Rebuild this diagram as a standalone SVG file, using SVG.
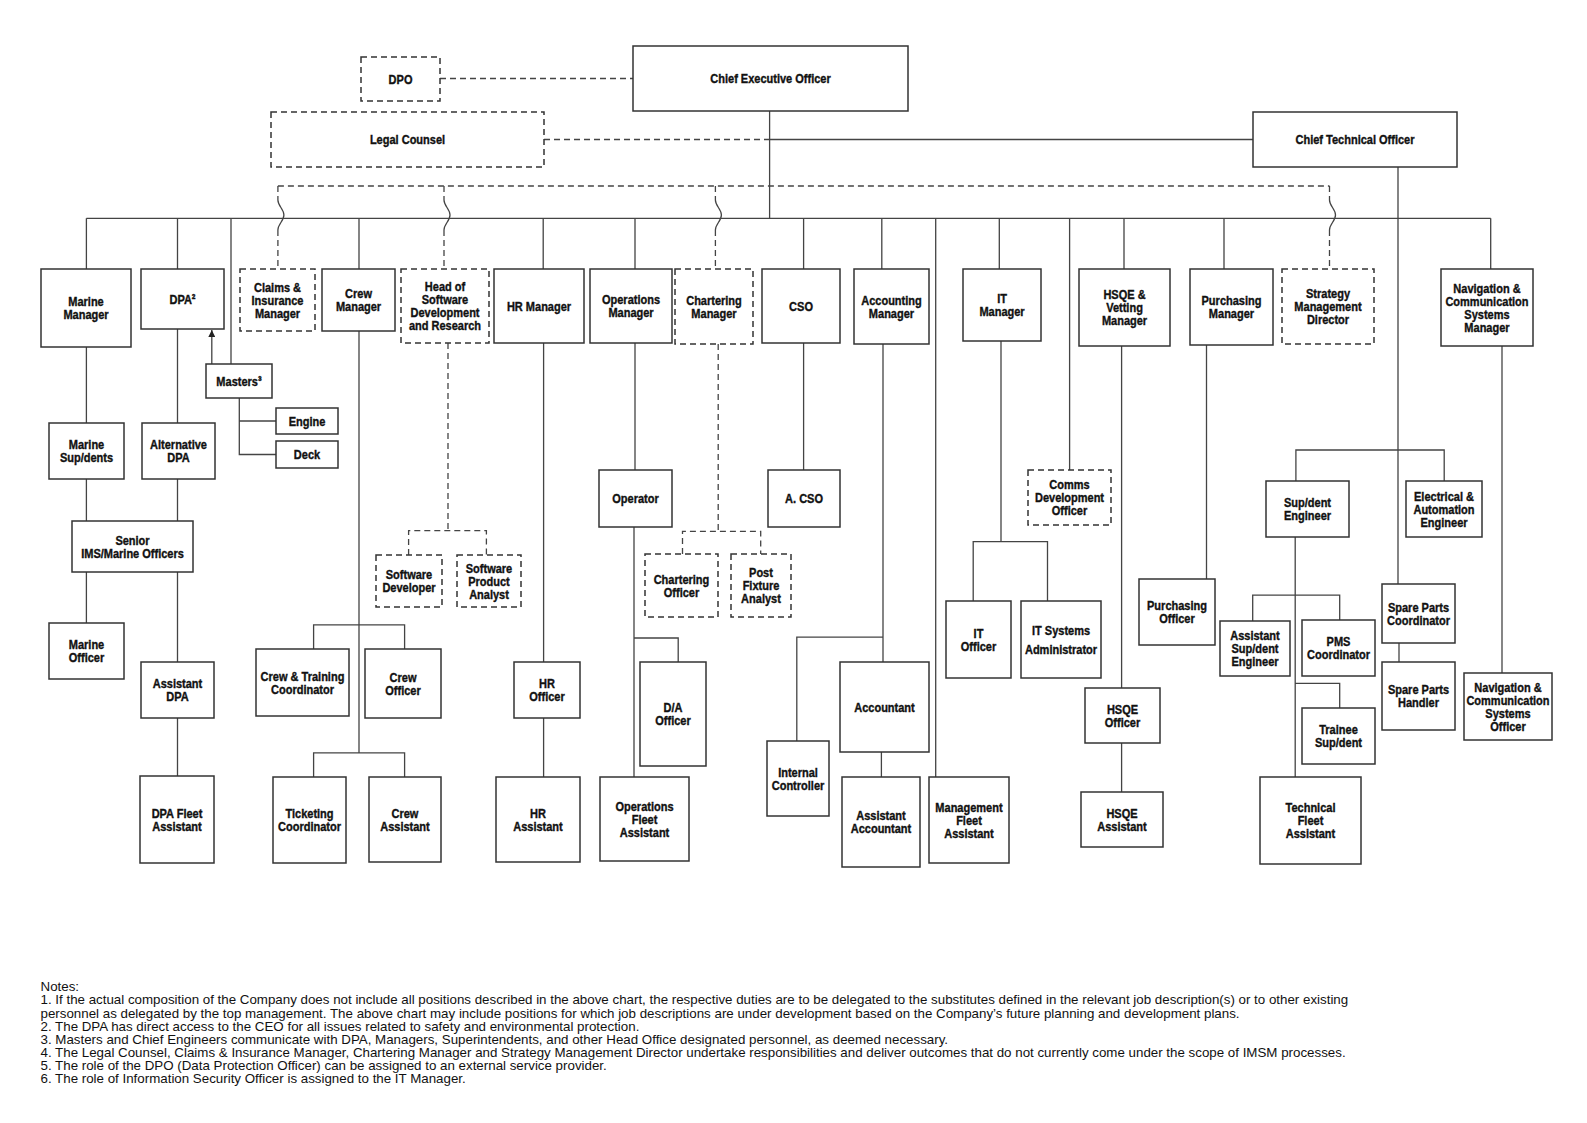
<svg xmlns="http://www.w3.org/2000/svg" width="1587" height="1123" viewBox="0 0 1587 1123">
<style>
.box{fill:#fff;stroke:#333;stroke-width:1.5}
.dash{stroke-dasharray:6 4}
.ln{fill:none;stroke:#444;stroke-width:1.3}
.dl{fill:none;stroke:#444;stroke-width:1.3;stroke-dasharray:6 4}
.t{font-family:"Liberation Sans Narrow","Liberation Sans",Arial,sans-serif;font-weight:bold;font-size:13.6px;text-anchor:middle;fill:#111;stroke:#111;stroke-width:0.4;transform-box:fill-box;transform-origin:center;transform:scaleX(0.81)}
.note{font-family:"Liberation Sans",Arial,sans-serif;font-size:13.33px;fill:#111}
</style>
<defs>
<marker id="arr" viewBox="0 0 10 10" refX="10" refY="5" markerWidth="9" markerHeight="7" markerUnits="userSpaceOnUse" orient="auto"><path d="M0,0 L10,5 L0,10 z" fill="#222"/></marker>
</defs>
<rect width="1587" height="1123" fill="#fff"/>
<g id="connectors">
<path class="dl" d="M440,78.5 H633"/>
<path class="dl" d="M544,139.5 H769.6"/>
<path class="ln" d="M769.6,139.5 H1253"/>
<path class="ln" d="M769.6,111 V218.3"/>
<path class="ln" d="M86.4,218.3 H1490.7"/>
<path class="dl" d="M277.9,186 H1329.5"/>
<path class="dl" d="M277.9,186 V200 M277.9,230 V269"/>
<path class="ln" d="M277.9,200 c0,6 6,9 6,15 s-6,9 -6,15"/>
<path class="dl" d="M444,186 V200 M444,230 V269"/>
<path class="ln" d="M444,200 c0,6 6,9 6,15 s-6,9 -6,15"/>
<path class="dl" d="M715.4,186 V200 M715.4,230 V269"/>
<path class="ln" d="M715.4,200 c0,6 6,9 6,15 s-6,9 -6,15"/>
<path class="dl" d="M1329.5,186 V200 M1329.5,230 V269"/>
<path class="ln" d="M1329.5,200 c0,6 6,9 6,15 s-6,9 -6,15"/>
<path class="ln" d="M86.4,218.3 V269 M177.5,218.3 V269 M359,218.3 V269 M543.2,218.3 V269 M635,218.3 V269 M803.6,218.3 V269 M881.8,218.3 V269 M999.3,218.3 V269 M1124,218.3 V269 M1224,218.3 V269 M1490.7,218.3 V269"/>
<path class="ln" d="M231,218.3 V364 M935.7,218.3 V777 M1069.6,218.3 V470 M1398,167 V584"/>
<path class="ln" d="M86.4,347 V423 M86.4,479 V521 M86.4,572 V623"/>
<path class="ln" d="M177.5,329 V423 M177.5,479 V521 M177.5,572 V662 M177.5,718 V776"/>
<path class="ln" d="M211.8,364 V330" marker-end="url(#arr)"/>
<path class="ln" d="M239.3,398 V454.5 H276 M239.3,421 H276"/>
<path class="ln" d="M359,331 V752.8 M313.6,649 V624.8 H404.6 V649 M313.6,777 V752.8 H404.6 V777"/>
<path class="dl" d="M448,343 V530.7 M408.6,555 V530.7 H486.4 V555"/>
<path class="ln" d="M543.6,343 V662 M543.6,718 V777"/>
<path class="ln" d="M635,343 V470 M634,527 V777 M634,638 H678.2 V662"/>
<path class="dl" d="M718.2,344 V531.4 M682.5,554 V531.4 H760.7 V554"/>
<path class="ln" d="M803.6,343 V470"/>
<path class="ln" d="M883,344 V662 M796.8,741 V637.2 H883 M881.4,752 V777"/>
<path class="ln" d="M1001,341 V541.7 M973.2,601 V541.7 H1047.5 V601"/>
<path class="ln" d="M1121.6,346 V688 M1121.6,743 V792"/>
<path class="ln" d="M1206.5,345 V579"/>
<path class="ln" d="M1295.9,481 V450 H1444.2 V481"/>
<path class="ln" d="M1295.2,537 V777 M1252.7,621 V595.2 H1339.7 V620 M1295.2,683.4 H1339.7 V708"/>
<path class="ln" d="M1399,643 V662"/>
<path class="ln" d="M1502,346 V673"/>
</g>
<g id="dpo"><rect class="box dash" x="361" y="57" width="79" height="44"/><text class="t" x="400.5" y="83.6">DPO</text></g>
<g id="ceo"><rect class="box" x="633" y="46" width="275" height="65"/><text class="t" x="770.5" y="83.1">Chief Executive Officer</text></g>
<g id="legal-counsel"><rect class="box dash" x="271" y="112" width="273" height="55"/><text class="t" x="407.5" y="144.1">Legal Counsel</text></g>
<g id="cto"><rect class="box" x="1253" y="112" width="204" height="55"/><text class="t" x="1355" y="144.1">Chief Technical Officer</text></g>
<g id="marine-manager"><rect class="box" x="41" y="269" width="90" height="78"/><text class="t" x="86" y="306.1">Marine<tspan x="86" dy="13">Manager</tspan></text></g>
<g id="dpa"><rect class="box" x="141" y="269" width="83" height="60"/><text class="t" x="182.5" y="303.6">DPA²</text></g>
<g id="claims"><rect class="box dash" x="240" y="269" width="75" height="62"/><text class="t" x="277.5" y="291.6">Claims &amp;<tspan x="277.5" dy="13">Insurance</tspan><tspan x="277.5" dy="13">Manager</tspan></text></g>
<g id="crew-manager"><rect class="box" x="322" y="269" width="73" height="62"/><text class="t" x="358.5" y="298.1">Crew<tspan x="358.5" dy="13">Manager</tspan></text></g>
<g id="head-software"><rect class="box dash" x="401" y="269" width="88" height="74"/><text class="t" x="445" y="291.1">Head of<tspan x="445" dy="13">Software</tspan><tspan x="445" dy="13">Development</tspan><tspan x="445" dy="13">and Research</tspan></text></g>
<g id="hr-manager"><rect class="box" x="494" y="269" width="90" height="74"/><text class="t" x="539" y="310.6">HR Manager</text></g>
<g id="ops-manager"><rect class="box" x="590" y="269" width="82" height="74"/><text class="t" x="631" y="304.1">Operations<tspan x="631" dy="13">Manager</tspan></text></g>
<g id="chartering-manager"><rect class="box dash" x="675" y="269" width="78" height="75"/><text class="t" x="714" y="304.6">Chartering<tspan x="714" dy="13">Manager</tspan></text></g>
<g id="cso"><rect class="box" x="762" y="269" width="78" height="74"/><text class="t" x="801" y="310.6">CSO</text></g>
<g id="accounting-manager"><rect class="box" x="854" y="269" width="75" height="75"/><text class="t" x="891.5" y="304.6">Accounting<tspan x="891.5" dy="13">Manager</tspan></text></g>
<g id="it-manager"><rect class="box" x="963" y="269" width="78" height="72"/><text class="t" x="1002" y="303.1">IT<tspan x="1002" dy="13">Manager</tspan></text></g>
<g id="hsqe-manager"><rect class="box" x="1079" y="269" width="91" height="77"/><text class="t" x="1124.5" y="299.1">HSQE &amp;<tspan x="1124.5" dy="13">Vetting</tspan><tspan x="1124.5" dy="13">Manager</tspan></text></g>
<g id="purchasing-manager"><rect class="box" x="1190" y="269" width="83" height="76"/><text class="t" x="1231.5" y="305.1">Purchasing<tspan x="1231.5" dy="13">Manager</tspan></text></g>
<g id="strategy-director"><rect class="box dash" x="1282" y="269" width="92" height="75"/><text class="t" x="1328" y="298.1">Strategy<tspan x="1328" dy="13">Management</tspan><tspan x="1328" dy="13">Director</tspan></text></g>
<g id="nav-manager"><rect class="box" x="1441" y="269" width="92" height="77"/><text class="t" x="1487" y="292.6">Navigation &amp;<tspan x="1487" dy="13">Communication</tspan><tspan x="1487" dy="13">Systems</tspan><tspan x="1487" dy="13">Manager</tspan></text></g>
<g id="masters"><rect class="box" x="206" y="364" width="66" height="34"/><text class="t" x="239" y="385.6">Masters³</text></g>
<g id="engine"><rect class="box" x="276" y="408" width="62" height="26"/><text class="t" x="307" y="425.6">Engine</text></g>
<g id="deck"><rect class="box" x="276" y="441" width="62" height="27"/><text class="t" x="307" y="459.1">Deck</text></g>
<g id="marine-supdents"><rect class="box" x="49" y="423" width="75" height="56"/><text class="t" x="86.5" y="449.1">Marine<tspan x="86.5" dy="13">Sup/dents</tspan></text></g>
<g id="alternative-dpa"><rect class="box" x="142" y="423" width="73" height="56"/><text class="t" x="178.5" y="449.1">Alternative<tspan x="178.5" dy="13">DPA</tspan></text></g>
<g id="senior-ims"><rect class="box" x="72" y="521" width="121" height="51"/><text class="t" x="132.5" y="544.6">Senior<tspan x="132.5" dy="13">IMS/Marine Officers</tspan></text></g>
<g id="marine-officer"><rect class="box" x="49" y="623" width="75" height="56"/><text class="t" x="86.5" y="649.1">Marine<tspan x="86.5" dy="13">Officer</tspan></text></g>
<g id="assistant-dpa"><rect class="box" x="141" y="662" width="73" height="56"/><text class="t" x="177.5" y="688.1">Assistant<tspan x="177.5" dy="13">DPA</tspan></text></g>
<g id="dpa-fleet-assistant"><rect class="box" x="140" y="776" width="74" height="87"/><text class="t" x="177" y="817.6">DPA Fleet<tspan x="177" dy="13">Assistant</tspan></text></g>
<g id="software-developer"><rect class="box dash" x="376" y="555" width="66" height="52"/><text class="t" x="409" y="579.1">Software<tspan x="409" dy="13">Developer</tspan></text></g>
<g id="software-analyst"><rect class="box dash" x="457" y="555" width="64" height="52"/><text class="t" x="489" y="572.6">Software<tspan x="489" dy="13">Product</tspan><tspan x="489" dy="13">Analyst</tspan></text></g>
<g id="crew-training"><rect class="box" x="256" y="649" width="93" height="67"/><text class="t" x="302.5" y="680.6">Crew &amp; Training<tspan x="302.5" dy="13">Coordinator</tspan></text></g>
<g id="crew-officer"><rect class="box" x="365" y="649" width="76" height="69"/><text class="t" x="403" y="681.6">Crew<tspan x="403" dy="13">Officer</tspan></text></g>
<g id="ticketing"><rect class="box" x="273" y="777" width="73" height="86"/><text class="t" x="309.5" y="818.1">Ticketing<tspan x="309.5" dy="13">Coordinator</tspan></text></g>
<g id="crew-assistant"><rect class="box" x="369" y="777" width="72" height="85"/><text class="t" x="405" y="817.6">Crew<tspan x="405" dy="13">Assistant</tspan></text></g>
<g id="hr-officer"><rect class="box" x="514" y="662" width="66" height="56"/><text class="t" x="547" y="688.1">HR<tspan x="547" dy="13">Officer</tspan></text></g>
<g id="hr-assistant"><rect class="box" x="496" y="777" width="84" height="85"/><text class="t" x="538" y="817.6">HR<tspan x="538" dy="13">Assistant</tspan></text></g>
<g id="operator"><rect class="box" x="599" y="470" width="73" height="57"/><text class="t" x="635.5" y="503.1">Operator</text></g>
<g id="a-cso"><rect class="box" x="768" y="470" width="72" height="57"/><text class="t" x="804" y="503.1">A. CSO</text></g>
<g id="chartering-officer"><rect class="box dash" x="645" y="554" width="73" height="63"/><text class="t" x="681.5" y="583.6">Chartering<tspan x="681.5" dy="13">Officer</tspan></text></g>
<g id="post-fixture"><rect class="box dash" x="731" y="554" width="60" height="63"/><text class="t" x="761" y="577.1">Post<tspan x="761" dy="13">Fixture</tspan><tspan x="761" dy="13">Analyst</tspan></text></g>
<g id="da-officer"><rect class="box" x="640" y="662" width="66" height="104"/><text class="t" x="673" y="712.1">D/A<tspan x="673" dy="13">Officer</tspan></text></g>
<g id="ops-fleet"><rect class="box" x="600" y="777" width="89" height="84"/><text class="t" x="644.5" y="810.6">Operations<tspan x="644.5" dy="13">Fleet</tspan><tspan x="644.5" dy="13">Assistant</tspan></text></g>
<g id="internal-controller"><rect class="box" x="767" y="741" width="62" height="75"/><text class="t" x="798" y="776.6">Internal<tspan x="798" dy="13">Controller</tspan></text></g>
<g id="accountant"><rect class="box" x="840" y="662" width="89" height="90"/><text class="t" x="884.5" y="711.6">Accountant</text></g>
<g id="assistant-accountant"><rect class="box" x="842" y="777" width="78" height="90"/><text class="t" x="881" y="820.1">Assistant<tspan x="881" dy="13">Accountant</tspan></text></g>
<g id="mgmt-fleet"><rect class="box" x="929" y="777" width="80" height="86"/><text class="t" x="969" y="811.6">Management<tspan x="969" dy="13">Fleet</tspan><tspan x="969" dy="13">Assistant</tspan></text></g>
<g id="it-officer"><rect class="box" x="946" y="601" width="65" height="77"/><text class="t" x="978.5" y="637.6">IT<tspan x="978.5" dy="13">Officer</tspan></text></g>
<g id="it-sysadmin"><rect class="box" x="1021" y="601" width="80" height="77"/><text class="t" x="1061" y="634.6">IT Systems<tspan x="1061" dy="19">Administrator</tspan></text></g>
<g id="comms-dev"><rect class="box dash" x="1028" y="470" width="83" height="55"/><text class="t" x="1069.5" y="489.1">Comms<tspan x="1069.5" dy="13">Development</tspan><tspan x="1069.5" dy="13">Officer</tspan></text></g>
<g id="hsqe-officer"><rect class="box" x="1085" y="688" width="75" height="55"/><text class="t" x="1122.5" y="713.6">HSQE<tspan x="1122.5" dy="13">Officer</tspan></text></g>
<g id="hsqe-assistant"><rect class="box" x="1081" y="792" width="82" height="55"/><text class="t" x="1122" y="817.6">HSQE<tspan x="1122" dy="13">Assistant</tspan></text></g>
<g id="purchasing-officer"><rect class="box" x="1139" y="579" width="76" height="66"/><text class="t" x="1177" y="610.1">Purchasing<tspan x="1177" dy="13">Officer</tspan></text></g>
<g id="supdent-engineer"><rect class="box" x="1266" y="481" width="83" height="56"/><text class="t" x="1307.5" y="507.1">Sup/dent<tspan x="1307.5" dy="13">Engineer</tspan></text></g>
<g id="electrical-engineer"><rect class="box" x="1406" y="481" width="76" height="56"/><text class="t" x="1444" y="500.6">Electrical &amp;<tspan x="1444" dy="13">Automation</tspan><tspan x="1444" dy="13">Engineer</tspan></text></g>
<g id="assistant-supdent"><rect class="box" x="1220" y="621" width="70" height="55"/><text class="t" x="1255" y="640.1">Assistant<tspan x="1255" dy="13">Sup/dent</tspan><tspan x="1255" dy="13">Engineer</tspan></text></g>
<g id="pms-coordinator"><rect class="box" x="1302" y="620" width="73" height="56"/><text class="t" x="1338.5" y="646.1">PMS<tspan x="1338.5" dy="13">Coordinator</tspan></text></g>
<g id="trainee-supdent"><rect class="box" x="1302" y="708" width="73" height="56"/><text class="t" x="1338.5" y="734.1">Trainee<tspan x="1338.5" dy="13">Sup/dent</tspan></text></g>
<g id="technical-fleet"><rect class="box" x="1260" y="777" width="101" height="87"/><text class="t" x="1310.5" y="812.1">Technical<tspan x="1310.5" dy="13">Fleet</tspan><tspan x="1310.5" dy="13">Assistant</tspan></text></g>
<g id="spare-coordinator"><rect class="box" x="1382" y="584" width="73" height="59"/><text class="t" x="1418.5" y="611.6">Spare Parts<tspan x="1418.5" dy="13">Coordinator</tspan></text></g>
<g id="spare-handler"><rect class="box" x="1382" y="662" width="73" height="68"/><text class="t" x="1418.5" y="694.1">Spare Parts<tspan x="1418.5" dy="13">Handler</tspan></text></g>
<g id="nav-officer"><rect class="box" x="1464" y="673" width="88" height="67"/><text class="t" x="1508" y="691.6">Navigation &amp;<tspan x="1508" dy="13">Communication</tspan><tspan x="1508" dy="13">Systems</tspan><tspan x="1508" dy="13">Officer</tspan></text></g>
<g id="notes">
<text class="note" x="40.5" y="990.5">Notes:</text>
<text class="note" x="40.5" y="1004.4">1. If the actual composition of the Company does not include all positions described in the above chart, the respective duties are to be delegated to the substitutes defined in the relevant job description(s) or to other existing</text>
<text class="note" x="40.5" y="1017.6">personnel as delegated by the top management. The above chart may include positions for which job descriptions are under development based on the Company’s future planning and development plans.</text>
<text class="note" x="40.5" y="1030.7">2. The DPA has direct access to the CEO for all issues related to safety and environmental protection.</text>
<text class="note" x="40.5" y="1043.9">3. Masters and Chief Engineers communicate with DPA, Managers, Superintendents, and other Head Office designated personnel, as deemed necessary.</text>
<text class="note" x="40.5" y="1057.0">4. The Legal Counsel, Claims &amp; Insurance Manager, Chartering Manager and Strategy Management Director undertake responsibilities and deliver outcomes that do not currently come under the scope of IMSM processes.</text>
<text class="note" x="40.5" y="1070.2">5. The role of the DPO (Data Protection Officer) can be assigned to an external service provider.</text>
<text class="note" x="40.5" y="1083.4">6. The role of Information Security Officer is assigned to the IT Manager.</text>
</g>
</svg>
